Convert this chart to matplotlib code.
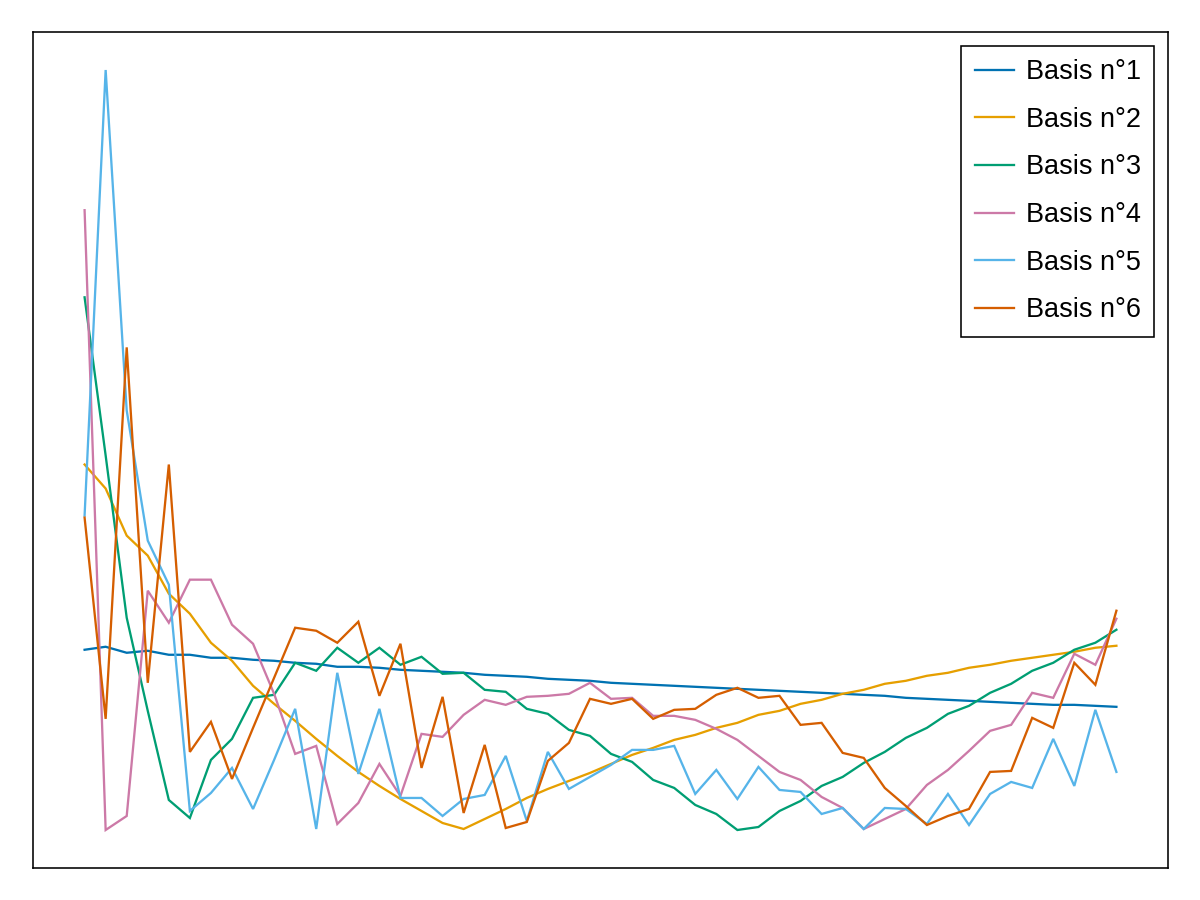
import matplotlib
matplotlib.use("Agg")
import matplotlib.pyplot as plt

plt.rcParams['font.family'] = ['Liberation Sans', 'DejaVu Sans']

x = list(range(1, 51))
labels = ["Basis n°1", "Basis n°2", "Basis n°3", "Basis n°4", "Basis n°5", "Basis n°6"]
colors = ["#0072B2", "#E69F00", "#009E73", "#CC79A7", "#56B4E9", "#D55E00"]

basis1 = [219, 222, 216, 218, 214, 214, 211, 211, 209, 208, 206, 205, 202, 202, 201, 199, 198, 197, 196, 194,
          193, 192, 190, 189, 188, 186, 185, 184, 183, 182, 181, 180, 179, 178, 177, 176, 175, 174, 173, 171,
          170, 169, 168, 167, 166, 165, 164, 164, 163, 162]
basis2 = [404, 380, 333, 313, 275, 255, 226, 208, 183, 165, 148, 130, 113, 97, 83, 70, 58, 46, 40, 50,
          60, 71, 80, 88, 96, 105, 114, 121, 129, 134, 141, 146, 154, 158, 165, 169, 175, 179, 185, 188,
          193, 196, 201, 204, 208, 211, 214, 217, 221, 223]
basis3 = [571, 413, 251, 158, 69, 51, 109, 130, 171, 174, 206, 198, 221, 206, 221, 204, 212, 195, 196, 179,
          177, 160, 155, 139, 133, 115, 107, 89, 81, 64, 55, 39, 42, 58, 68, 83, 92, 106, 117, 131,
          141, 155, 163, 176, 185, 198, 206, 219, 226, 239]
basis4 = [658, 39, 53, 278, 246, 289, 289, 244, 225, 175, 115, 123, 45, 66, 105, 73, 135, 132, 154, 169,
          164, 172, 173, 175, 186, 170, 171, 153, 153, 149, 140, 129, 113, 97, 89, 72, 61, 40, 50, 60,
          84, 99, 118, 138, 144, 176, 171, 215, 204, 250]
basis5 = [353, 798, 458, 328, 284, 58, 76, 101, 60, 109, 160, 40, 196, 95, 160, 71, 71, 53, 70, 74,
          113, 48, 117, 80, 92, 104, 119, 119, 123, 75, 99, 70, 102, 79, 77, 55, 61, 40, 61, 60,
          45, 75, 44, 75, 87, 81, 130, 83, 159, 97]
basis6 = [351, 150, 521, 186, 404, 117, 147, 90, 141, 191, 241, 238, 226, 247, 173, 225, 101, 172, 56, 124,
          41, 47, 108, 126, 170, 165, 170, 150, 159, 160, 174, 181, 171, 173, 144, 146, 116, 111, 81, 63,
          44, 53, 60, 97, 98, 151, 141, 206, 184, 258]

series = [basis1, basis2, basis3, basis4, basis5, basis6]

fig = plt.figure(figsize=(12, 9), dpi=100)
ax = fig.add_axes([33 / 1200, 32 / 900, 1135 / 1200, 836 / 900])

for ys, lab, c in zip(series, labels, colors):
    ax.plot(x, ys, color=c, linewidth=1.65, label=lab, solid_joinstyle='miter')

ax.margins(x=0.05, y=0.05)
ax.set_xticks([])
ax.set_yticks([])
for s in ax.spines.values():
    s.set_linewidth(1.15)
    s.set_color("black")

leg = ax.legend(loc="upper right", fontsize=19.5, frameon=True, fancybox=False,
                edgecolor="black", framealpha=1.0, handlelength=1.44, handletextpad=0.44,
                labelspacing=0.8, borderpad=0.5, borderaxespad=0.5)
leg.get_frame().set_linewidth(1.15)

fig.savefig("out.png", dpi=100)
